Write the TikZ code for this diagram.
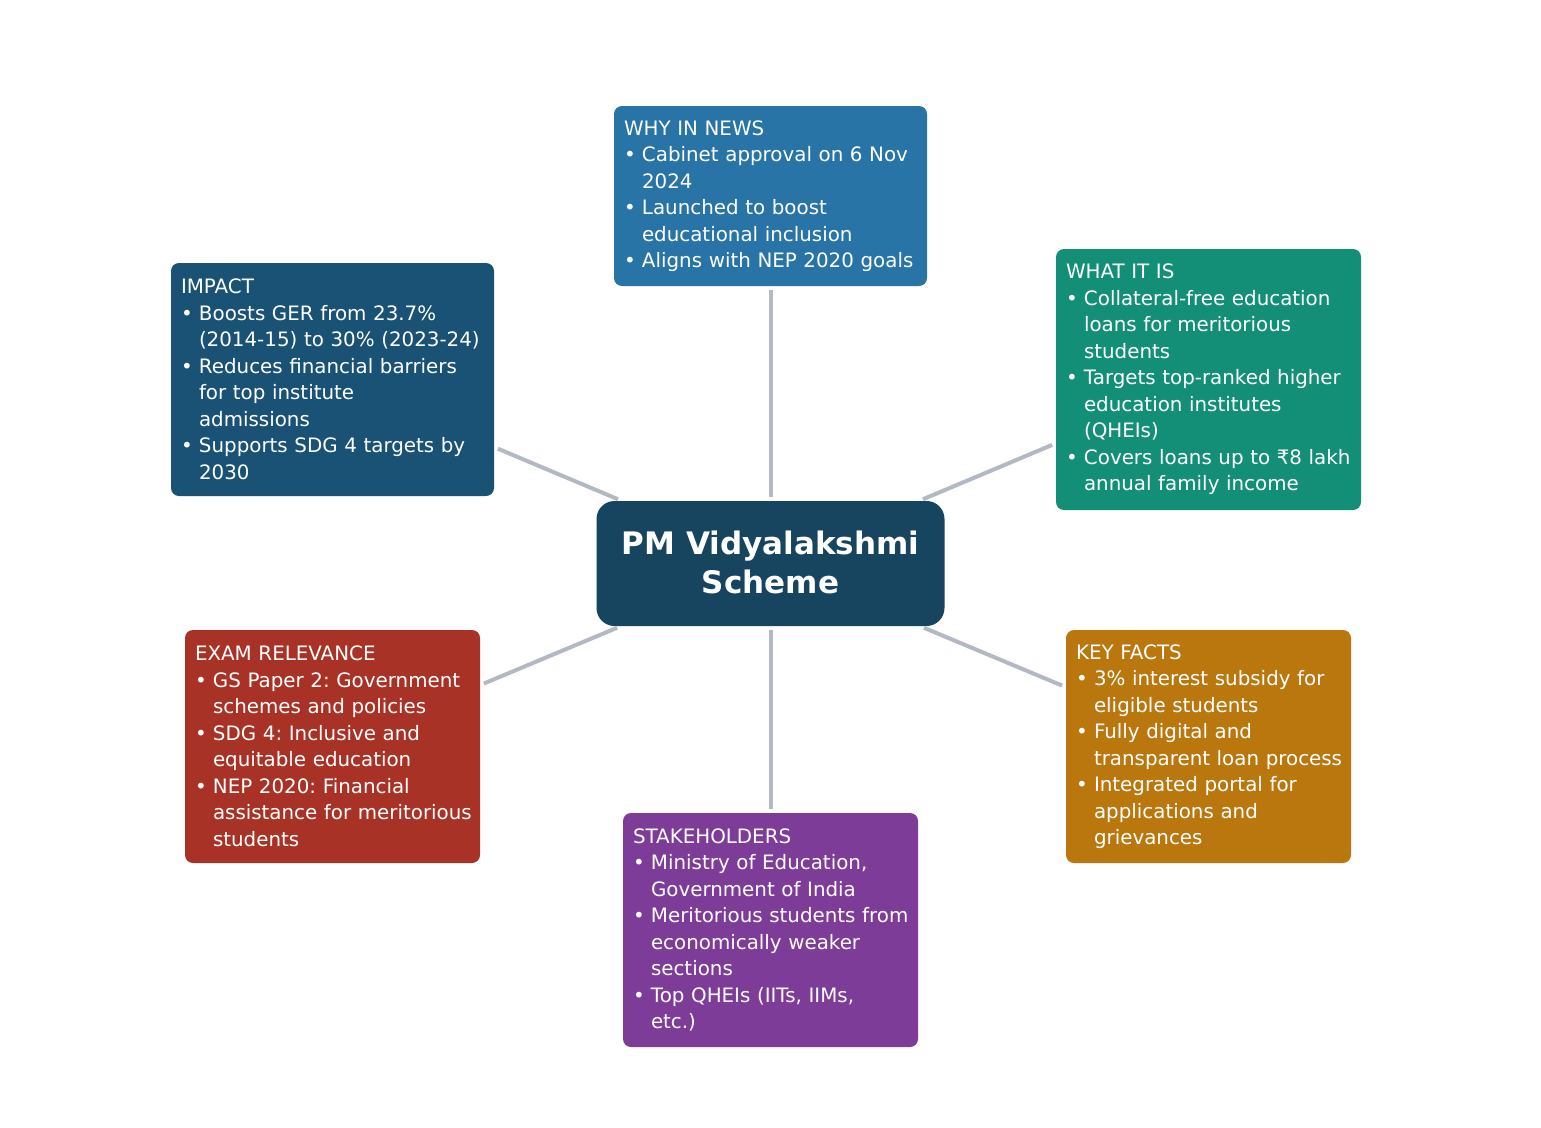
\documentclass[tikz,border=0pt]{standalone}
\usepackage{fontspec}
\setmainfont{DejaVu Sans}
\frenchspacing
\definecolor{cnews}{HTML}{2874A6}
\definecolor{cimpact}{HTML}{1A5276}
\definecolor{cwhat}{HTML}{148F77}
\definecolor{ccenter}{HTML}{174560}
\definecolor{cexam}{HTML}{A93226}
\definecolor{ckey}{HTML}{B9770E}
\definecolor{cstake}{HTML}{7D3C98}
\definecolor{cline}{HTML}{B3B9C2}
\newcommand\bitem[1]{\mbox{\makebox[18pt][l]{•}#1}}
\newcommand\cont[1]{\mbox{\hspace*{18pt}#1}}
\tikzset{
  infobox/.style={fill=#1, text=white, rounded corners=8pt, inner xsep=10pt, inner ysep=0pt,
    align=left, font=\fontsize{19.85pt}{26.5pt}\selectfont\frenchspacing},
  hub/.style={fill=ccenter, text=white, rounded corners=18pt, align=center,
    font=\fontsize{31pt}{39pt}\selectfont\bfseries, minimum width=348pt, minimum height=125pt},
  link/.style={draw=cline, line width=4pt, shorten <=4pt, shorten >=4pt}
}
\begin{document}
\begin{tikzpicture}[x=1pt,y=-1pt]
\useasboundingbox[fill=white] (0,0) rectangle (1541,1127);
\node[hub] (c) at (770.5,563.5) {\raisebox{3pt}{PM Vidyalakshmi}\\\raisebox{3pt}{Scheme}};
\node[infobox=cnews, text width=293pt, minimum height=180pt] (news) at (770.5,196)
 {WHY IN NEWS\\ \bitem{Cabinet approval on 6 Nov}\\ \cont{2024}\\ \bitem{Launched to boost}\\ \cont{educational inclusion}\\ \bitem{Aligns with NEP 2020 goals}};
\node[infobox=cimpact, text width=303pt, minimum height=233pt] (impact) at (332.5,379.5)
 {IMPACT\\ \bitem{Boosts GER from 23.7\%}\\ \cont{(2014-15) to 30\% (2023-24)}\\ \bitem{Reduces financial barriers}\\ \cont{for top institute}\\ \cont{admissions}\\ \bitem{Supports SDG 4 targets by}\\ \cont{2030}};
\node[infobox=cwhat, text width=285pt, minimum height=261pt] (what) at (1208.5,379.5)
 {WHAT IT IS\\ \bitem{Collateral-free education}\\ \cont{loans for meritorious}\\ \cont{students}\\ \bitem{Targets top-ranked higher}\\ \cont{education institutes}\\ \cont{(QHEIs)}\\ \bitem{Covers loans up to ₹8 lakh}\\ \cont{annual family income}};
\node[infobox=cexam, text width=275pt, minimum height=233pt] (exam) at (332.5,746.5)
 {EXAM RELEVANCE\\ \bitem{GS Paper 2: Government}\\ \cont{schemes and policies}\\ \bitem{SDG 4: Inclusive and}\\ \cont{equitable education}\\ \bitem{NEP 2020: Financial}\\ \cont{assistance for meritorious}\\ \cont{students}};
\node[infobox=ckey, text width=265pt, minimum height=233pt] (key) at (1208.5,746.5)
 {KEY FACTS\\ \bitem{3\% interest subsidy for}\\ \cont{eligible students}\\ \bitem{Fully digital and}\\ \cont{transparent loan process}\\ \bitem{Integrated portal for}\\ \cont{applications and}\\ \cont{grievances}};
\node[infobox=cstake, text width=275pt, minimum height=234pt] (stake) at (770.5,930)
 {STAKEHOLDERS\\ \bitem{Ministry of Education,}\\ \cont{Government of India}\\ \bitem{Meritorious students from}\\ \cont{economically weaker}\\ \cont{sections}\\ \bitem{Top QHEIs (IITs, IIMs,}\\ \cont{etc.)}};
\draw[link] (c) -- (news);
\draw[link] (c) -- (impact);
\draw[link] (c) -- (what);
\draw[link] (c) -- (exam);
\draw[link] (c) -- (key);
\draw[link] (c) -- (stake);
\end{tikzpicture}
\end{document}
